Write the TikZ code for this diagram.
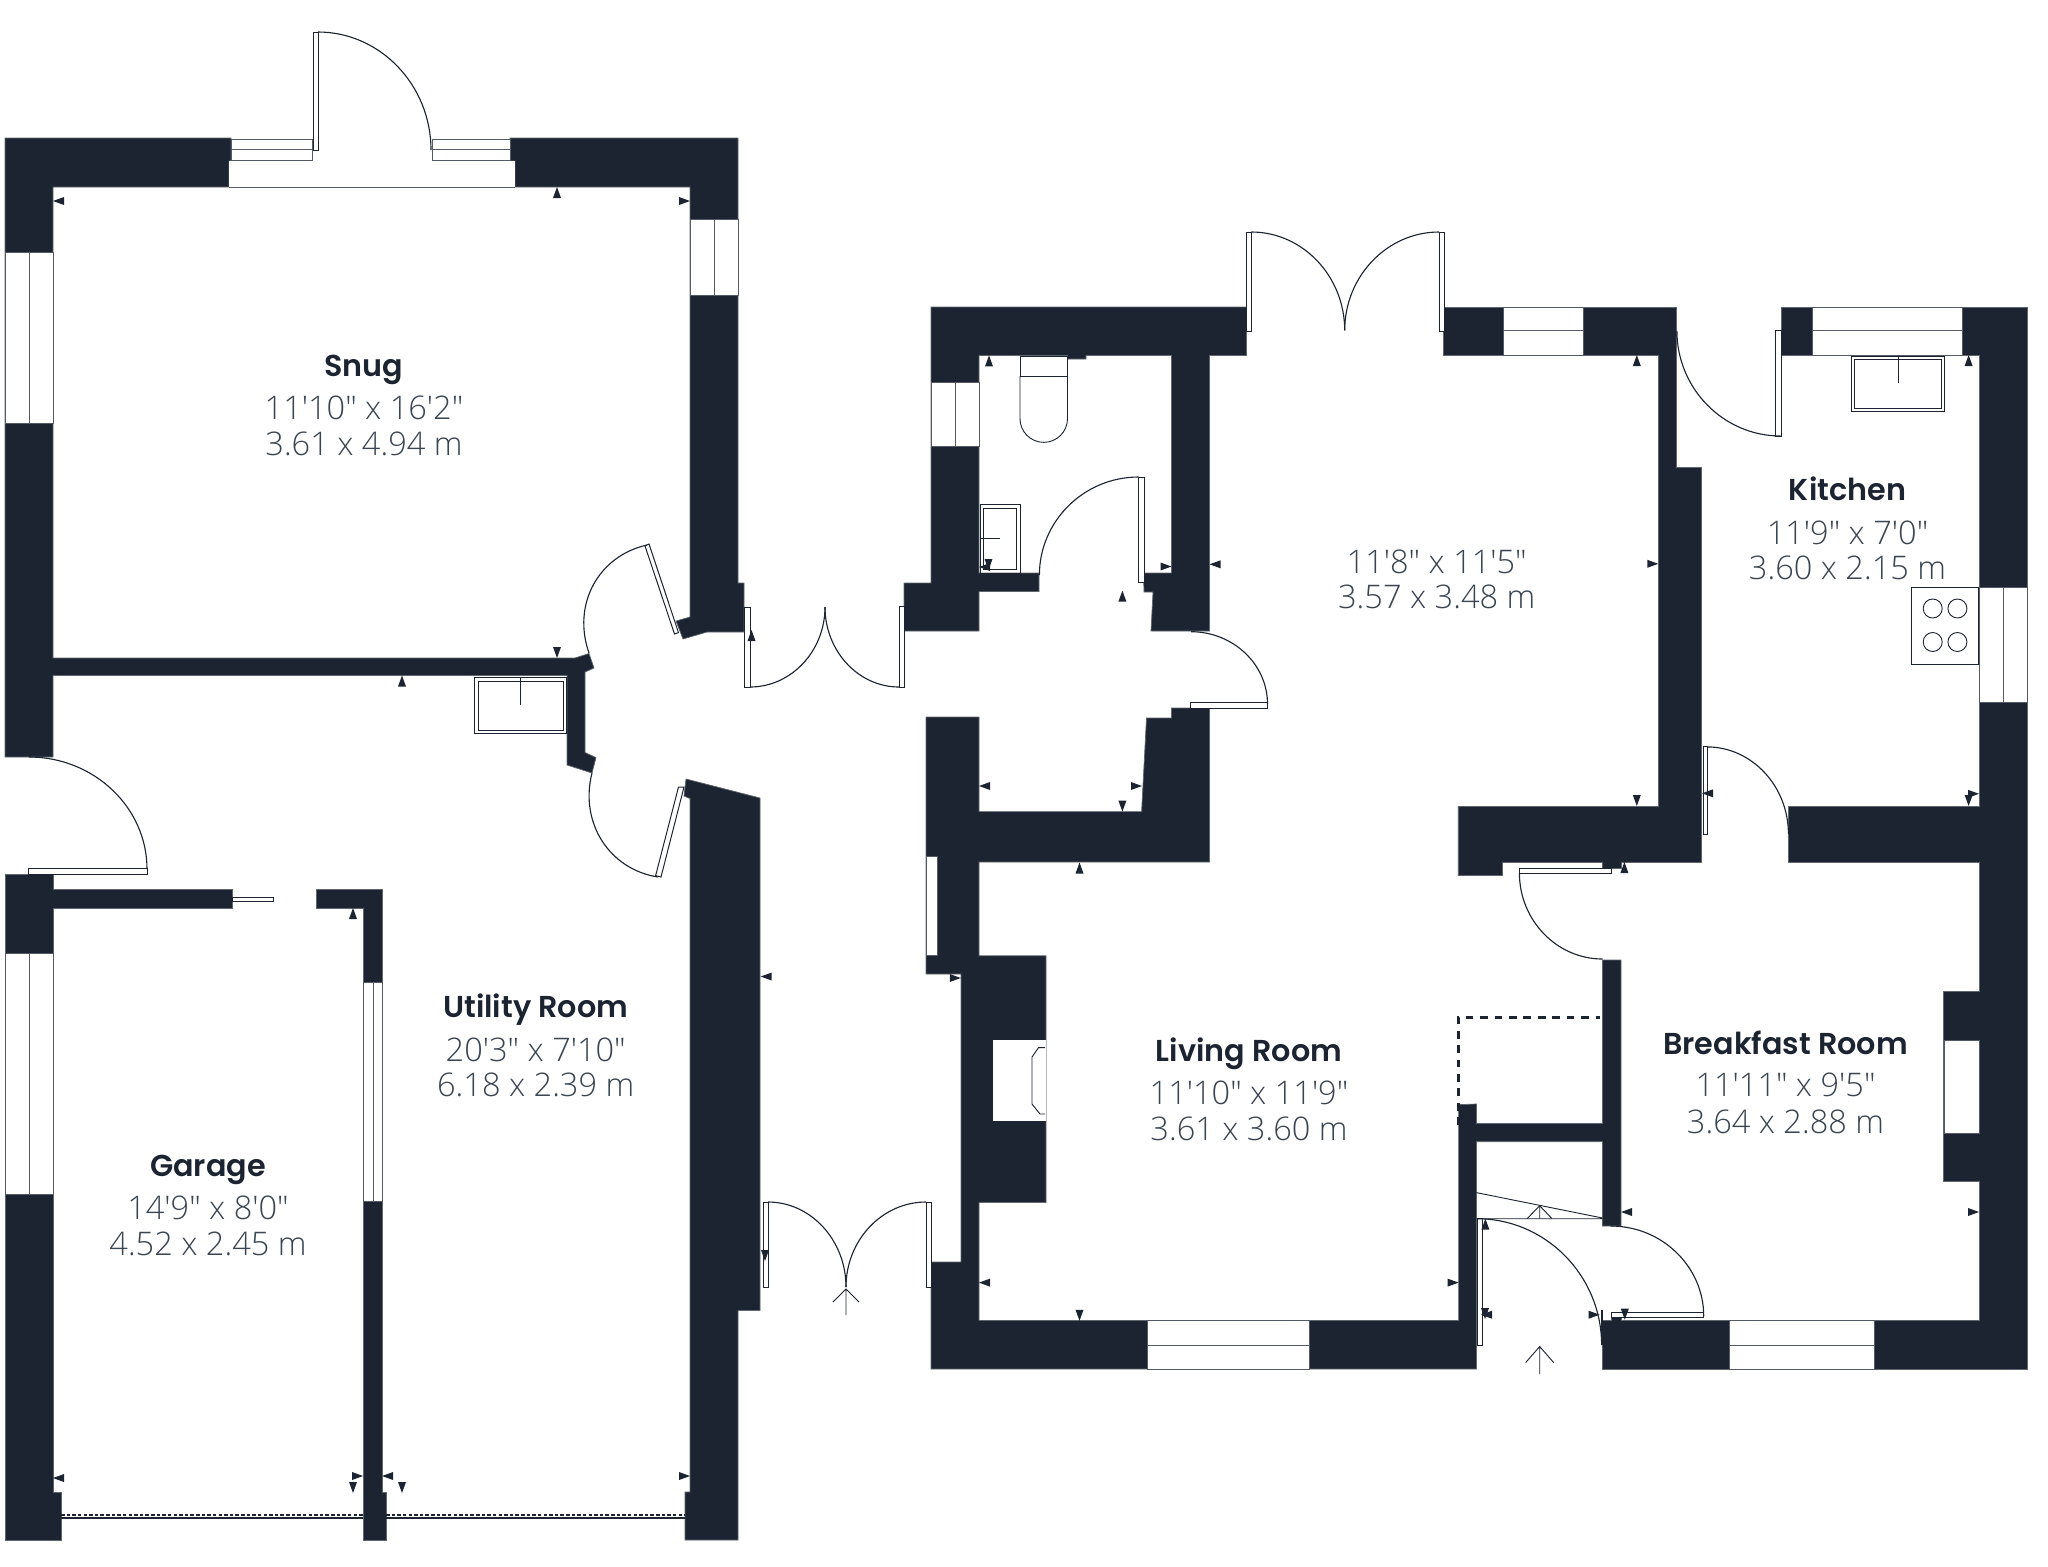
\documentclass[tikz,border=0pt]{standalone}
\usepackage{fontspec}
\usetikzlibrary{calc}
\newfontfamily\titlefont{Poppins SemiBold}
\newfontfamily\dimfont{Open Sans Light}
\definecolor{wallc}{HTML}{1B2430}
\definecolor{dimc}{HTML}{3A4552}
\tikzset{
  wall/.style={fill=wallc,draw=wallc!70!white,line width=0.2pt},
  thin line/.style={draw=wallc,line width=0.32pt},
  win/.style={fill=white,draw=wallc!75!white,line width=0.22pt},
  leaf/.style={fill=white,draw=wallc,line width=0.28pt},
  fixture/.style={draw=wallc,line width=0.26pt},
  roomtitle/.style={font=\titlefont\fontsize{8.6}{10}\selectfont,text=wallc,inner sep=0pt,anchor=center},
  roomdim/.style={font=\dimfont\fontsize{9.25}{10}\selectfont,text=dimc,inner sep=0pt,anchor=center},
  markfill/.style={fill=wallc,draw=none}
}
\newcommand\doorarc[3]{\draw[thin line] #1 .. controls ($#1!0.55!#2$) and ($#3!0.55!#2$) .. #3;}
% small triangular dimension marks: tip at (x,y)
\newcommand\mkL[2]{\fill[markfill] (#1,#2) -- ++(11,-4) -- ++(0,8) -- cycle;}
\newcommand\mkR[2]{\fill[markfill] (#1,#2) -- ++(-11,-4) -- ++(0,8) -- cycle;}
\newcommand\mkU[2]{\fill[markfill] (#1,#2) -- ++(-4,11) -- ++(8,0) -- cycle;}
\newcommand\mkD[2]{\fill[markfill] (#1,#2) -- ++(-4,-11) -- ++(8,0) -- cycle;}
\newcommand\winh[5]{\draw[win] (#1,#2) rectangle (#3,#4); \draw[win] (#1,#5) -- (#3,#5);}
\newcommand\winv[5]{\draw[win] (#1,#2) rectangle (#3,#4); \draw[win] (#5,#2) -- (#5,#4);}
\begin{document}
\begin{tikzpicture}[x=0.01cm,y=-0.01cm]
\useasboundingbox (0,0) rectangle (2048,1566);
% ---------- walls: left block ----------
\draw[wall] (5,138) -- (231,138) -- (231,161) -- (229,161) -- (229,187) -- (53,187) -- (53,658) -- (575,658) -- (589,653.5) -- (594,668) -- (585,672) -- (585,752.5) -- (596,757.6) -- (592,773) -- (567,765) -- (567,675.5) -- (53,675.5) -- (53,757) -- (5,757) -- cycle;
\draw[wall] (510,138) -- (738,138) -- (738,583) -- (744,583) -- (744,632) -- (707,632) -- (683,639) -- (676,621) -- (690,617) -- (690,187) -- (515,187) -- (515,161) -- (510,161) -- cycle;
\draw[wall] (5,874.6) -- (53,874.6) -- (53,889.6) -- (232,889.6) -- (232,908) -- (53,908) -- (53,1492) -- (61,1492) -- (61,1540) -- (5,1540) -- cycle;
\draw[wall] (316,889.6) -- (382,889.6) -- (382,1492) -- (386,1492) -- (386,1540) -- (363,1540) -- (363,908) -- (316,908) -- cycle;
\draw[wall] (686,779) -- (760,798) -- (760,1310.6) -- (738,1310.6) -- (738,1540) -- (685,1540) -- (685,1492) -- (690,1492) -- (690,798.5) -- (684,796) -- cycle;
% ---------- walls: right block ----------
\draw[wall] (931,307) -- (1246.5,307) -- (1246.5,355.4) -- (1209.5,355.4) -- (1209.5,631) -- (1151,631) -- (1153,592) -- (1144,592) -- (1143.5,573) -- (1171.5,573) -- (1171.5,355.4) -- (1086,355.4) -- (1086,359) -- (1067.5,359) -- (1067.5,355.4) -- (979,355.4) -- (979,573) -- (1039,573) -- (1039,591.5) -- (979,591.5) -- (979,631) -- (904,631) -- (904,583) -- (931,583) -- cycle;
\draw[wall] (926,717) -- (979,717) -- (979,811.6) -- (1141.6,811.6) -- (1146.5,718) -- (1171.5,718) -- (1171.5,708) -- (1209.5,708) -- (1209.5,862) -- (979,862) -- (979,955.8) -- (1046,955.8) -- (1046,1202.6) -- (979,1202.6) -- (979,1320.5) -- (1458.6,1320.5) -- (1458.6,1104.6) -- (1476.4,1104) -- (1476.4,1123.4) -- (1602.5,1123.4) -- (1602.5,960) -- (1621,960) -- (1621,1226) -- (1602.5,1226) -- (1602.5,1141.7) -- (1476.4,1141.7) -- (1476.4,1369) -- (931,1369) -- (931,1262) -- (961,1262) -- (961,974) -- (926,974) -- cycle;
\draw[wall] (1443.8,307) -- (1676,307) -- (1676,467) -- (1701.7,467) -- (1701.7,862) -- (1621,862) -- (1621,868) -- (1602.5,868) -- (1602.5,862) -- (1502.5,862) -- (1502.5,875.8) -- (1457.9,875.8) -- (1457.9,806.2) -- (1658.3,806.2) -- (1658.3,355) -- (1443.8,355) -- cycle;
\draw[wall] (1781.4,307) -- (2027.7,307) -- (2027.7,1369) -- (1602.5,1369) -- (1602.5,1320.5) -- (1611,1320.5) -- (1611,1313) -- (1621,1313) -- (1621,1320.5) -- (1979,1320.5) -- (1979,1181.5) -- (1943.4,1181.5) -- (1943.4,991.4) -- (1979,991.4) -- (1979,862) -- (1788.8,862) -- (1788.8,806) -- (1979,806) -- (1979,355) -- (1781.4,355) -- cycle;
% ---------- windows ----------
\winv{5}{252}{53}{423.5}{29}
\winv{690}{219}{738}{295}{714}
\winv{5}{953}{53}{1194.5}{29}
\winv{363.5}{982.6}{382}{1201.6}{373}
\winv{931}{382}{979}{446}{955}
\draw[win] (926.4,856.6) rectangle (937.6,955.8);
\winh{1503.3}{307}{1583}{355}{330.8}
\winh{1812.8}{307}{1962.8}{355}{330.8}
\winv{1979.7}{587.5}{2027}{702.7}{2003.3}
\winh{1147}{1320.5}{1309.5}{1369}{1345}
\winh{1729.3}{1320.5}{1874}{1369}{1345}
\draw[win] (1944.6,1040) rectangle (1979.7,1133);
% snug french-door opening
\fill[white] (229,161) rectangle (515,187);
\draw[win] (229,187) -- (515,187);
\winh{231}{139}{312}{160.5}{149.5}
\winh{432}{139}{510}{160.5}{149.5}
% ---------- door leaves and swings ----------
\draw[leaf] (313,32) rectangle (318,150);
\doorarc{(318,32)}{(431,32)}{(431,150)}
\draw[leaf] (28.5,868.5) rectangle (147,874);
\doorarc{(29,757)}{(147,757)}{(147,869)}
\draw[leaf] (232,897) rectangle (273.5,901);
\draw[leaf] (645,546) -- (649,544) -- (678.5,632.6) -- (674.5,634) -- cycle;
\doorarc{(647,545)}{(558,565)}{(589,653)}
\draw[leaf] (678.5,787) -- (684,787) -- (661,877) -- (655.6,875.7) -- cycle;
\doorarc{(658,877)}{(569,863)}{(592,773)}
\draw[leaf] (744,607) rectangle (750,687);
\draw[leaf] (899,606) rectangle (904.5,687.5);
\doorarc{(750,687)}{(825,687)}{(825,607)}
\doorarc{(899,687)}{(825,687)}{(825,607)}
\draw[leaf] (1138.5,477) rectangle (1144,582.6);
\doorarc{(1138.5,477)}{(1039.4,477)}{(1039.4,575)}
\draw[leaf] (1190.7,702.7) rectangle (1267.5,708);
\doorarc{(1191,631.7)}{(1267.5,631.7)}{(1267.5,704)}
\draw[leaf] (1246.5,232) rectangle (1251.4,331);
\draw[leaf] (1439,232) rectangle (1444.3,331);
\doorarc{(1251.4,232)}{(1344.7,232)}{(1344.7,330.4)}
\doorarc{(1439,232)}{(1344.7,232)}{(1344.7,330.4)}
\draw[leaf] (1775.6,330.8) rectangle (1781,436);
\doorarc{(1676.9,330.8)}{(1676.9,436)}{(1780.6,436)}
\draw[leaf] (1703,746.9) rectangle (1707.4,834);
\doorarc{(1707,746.9)}{(1788.4,746.9)}{(1788.4,834)}
\draw[leaf] (1519.4,868.3) rectangle (1611.6,873);
\doorarc{(1519.4,873)}{(1519.4,959)}{(1602.5,959)}
\draw[leaf] (1477,1218.7) rectangle (1482,1345);
\doorarc{(1477,1218.7)}{(1601.6,1218.7)}{(1601.6,1345)}
\draw[leaf] (1611.6,1312) rectangle (1703.7,1317.8);
\doorarc{(1610.7,1226)}{(1703.7,1226)}{(1703.7,1316)}
\draw[leaf] (763,1202) rectangle (768,1287);
\draw[leaf] (926,1202) rectangle (931.3,1287);
\doorarc{(768,1202)}{(846,1202)}{(846,1287)}
\doorarc{(926,1202)}{(846,1202)}{(846,1287)}
\draw[thin line] (1602,1310) -- (1602,1345);
\draw[thin line] (1482,1315) -- (1490,1315);
% ---------- garage doors ----------
\draw[wallc,line width=0.3pt,dash pattern=on 1pt off 0.6pt] (61,1515) -- (363,1515) (386,1515) -- (685,1515);
\draw[thin line] (61,1518) -- (363,1518) (386,1518) -- (685,1518);
% ---------- fixtures ----------
\draw[fixture] (474.5,677.5) rectangle (566,733.7);
\draw[fixture] (478,681) rectangle (563,730);
\draw[fixture] (520,677) -- (520,705);
\draw[fixture] (1020,356) rectangle (1067.5,376);
\draw[fixture] (1020,376) -- (1020,418.6) arc[start angle=180,end angle=0,x radius=23.75,y radius=23.75] -- (1067.5,376);
\draw[fixture] (980.5,504.5) rectangle (1020,573);
\draw[fixture] (983.5,508) rectangle (1016,569);
\draw[fixture] (980.5,538.4) -- (999.6,538.4);
\draw[fixture] (1851,356) rectangle (1944,411.6);
\draw[fixture] (1854.5,359.4) rectangle (1941,408);
\draw[fixture] (1898,356) -- (1898,383);
\draw[fixture] (1911.6,587) rectangle (1978.5,664);
\draw[fixture] (1932.7,608.5) circle[radius=9.5];
\draw[fixture] (1957.4,608.5) circle[radius=9.5];
\draw[fixture] (1932.7,642) circle[radius=9.5];
\draw[fixture] (1957.4,642) circle[radius=9.5];
% fireplace
\fill[white] (993.4,1040) rectangle (1046,1120.7);
\draw[fixture] (1045,1047.6) -- (1038.5,1047.6) -- (1032,1057) -- (1032,1104) -- (1040,1114) -- (1045,1114);
% porch canopy
\draw[wallc,line width=0.85pt,dash pattern=on 2.2pt off 1.9pt] (1458,1125) -- (1458,1017.4) -- (1599.6,1017.4);
\draw[fixture] (1476.4,1192.6) -- (1602.5,1218) (1476.4,1218.7) -- (1602.5,1218.7);
\draw[fixture] (1527,1218.7) -- (1539.7,1205.7) -- (1552,1218.7) (1539.7,1205.7) -- (1539.7,1218.7);
% entrance arrows
\draw[fixture] (1539.7,1374) -- (1539.7,1346.5) (1525.6,1362.6) -- (1539.7,1346.5) -- (1553.7,1362.6);
\draw[fixture] (846,1315) -- (846,1289) (833,1302) -- (846,1289) -- (859,1302);
% ---------- dimension marks ----------
\mkL{53}{201}\mkU{557}{187}\mkR{690}{201}\mkD{557}{658}\mkU{402}{675.5}\mkU{751.5}{630}
\mkL{53}{1478}\mkR{363}{1476}\mkU{353}{908}\mkD{353}{1493}\mkL{382}{1476}\mkD{402}{1493}\mkR{690}{1476}
\mkL{760.7}{976.5}\mkD{765}{1261}
\mkU{989}{355.4}\mkL{979}{567}\mkD{988.5}{570}\mkR{1171.5}{566.5}\mkU{1122.4}{590.6}\mkL{1209.5}{564.3}
\mkL{979}{786}\mkR{1142}{786}\mkD{1122.4}{811.6}\mkU{1079.5}{862.5}
\mkU{1636.8}{355}\mkR{1658.3}{563.8}\mkD{1636.8}{806}\mkU{1968.6}{355}\mkR{1979}{793.8}\mkD{1968.6}{806}\mkL{1702}{793.3}\mkU{1624.4}{862}
\mkL{979}{1282.6}\mkR{1458.6}{1282.6}\mkD{1079.5}{1320.8}\mkR{960.8}{978}\mkU{1485.4}{1218.7}\mkL{1481}{1314.7}\mkD{1485}{1319}
\mkL{1621}{1212}\mkR{1979}{1212}\mkR{1599.6}{1314.7}\mkD{1624.8}{1319.7}
% ---------- labels ----------
\node[roomtitle] (snug) at (364,370) {Snug};
\node[roomdim] (snugA) at (364,408) {11'10" x 16'2"};
\node[roomdim] (snugB) at (364,444) {3.61 x 4.94 m};
\node[roomtitle] (util) at (535.7,1009.5) {Utility Room};
\node[roomdim] (utilA) at (535.7,1049.5) {20'3" x 7'10"};
\node[roomdim] (utilB) at (535.7,1085) {6.18 x 2.39 m};
\node[roomtitle] (gar) at (208,1170) {Garage};
\node[roomdim] (garA) at (208,1208) {14'9" x 8'0"};
\node[roomdim] (garB) at (208,1244) {4.52 x 2.45 m};
\node[roomtitle] (liv) at (1249,1054) {Living Room};
\node[roomdim] (livA) at (1249,1092.8) {11'10" x 11'9"};
\node[roomdim] (livB) at (1249,1129) {3.61 x 3.60 m};
\node[roomdim] (midA) at (1436.7,561.6) {11'8" x 11'5"};
\node[roomdim] (midB) at (1436.7,597) {3.57 x 3.48 m};
\node[roomtitle] (kit) at (1847.5,489) {Kitchen};
\node[roomdim] (kitA) at (1847.5,532.6) {11'9" x 7'0"};
\node[roomdim] (kitB) at (1847.5,568) {3.60 x 2.15 m};
\node[roomtitle] (bre) at (1785.5,1043) {Breakfast Room};
\node[roomdim] (breA) at (1785.5,1085) {11'11" x 9'5"};
\node[roomdim] (breB) at (1785.5,1121.5) {3.64 x 2.88 m};
\end{tikzpicture}
\end{document}
